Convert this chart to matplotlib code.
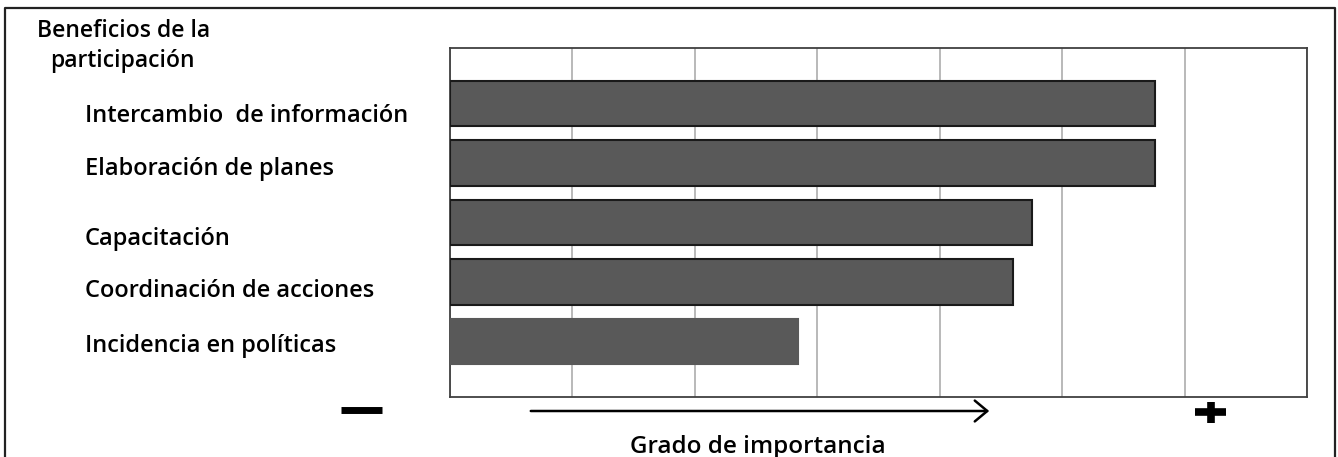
import matplotlib.pyplot as plt
from matplotlib.patches import FancyArrowPatch
from matplotlib.lines import Line2D

categorias = ['Intercambio  de información', 'Elaboración de planes', 'Capacitación',
              'Coordinación de acciones', 'Incidencia en políticas']
valores = [5.76, 5.76, 4.75, 4.60, 2.84]

W, H = 1338, 457
# línea base (px desde arriba) de cada etiqueta
linea_base = [122, 175, 245, 297, 352]

plt.rcParams['font.family'] = ['Open Sans', 'DejaVu Sans']

fig = plt.figure(figsize=(W/100, H/100), dpi=100)
ax = fig.add_axes([450/W, 1-397/H, 857/W, 349/H])

y = list(range(len(categorias)))
bordes = ['#1a1a1a', '#1a1a1a', '#1a1a1a', '#1a1a1a', '#595959']
ax.barh(y, valores, height=0.76, color='#595959', edgecolor=bordes, linewidth=1.5, zorder=3)

ax.set_xlim(0, 7)
ax.set_ylim(4.93, -0.93)
ax.set_xticks(range(8))
ax.set_yticks([])
ax.tick_params(axis='x', length=0, labelbottom=False)
ax.grid(axis='x', color='#a6a6a6', linewidth=1.1, zorder=0)
for s in ax.spines.values():
    s.set_color('#404040')
    s.set_linewidth(1.3)

for nombre, yb in zip(categorias, linea_base):
    fig.text(85/W, 1-yb/H, nombre, ha='left', va='baseline',
             fontsize=17, fontweight='semibold', color='black')

fig.text(37/W, 1-37/H, 'Beneficios de la', ha='left', va='baseline', fontsize=16.5, fontweight='semibold')
fig.text(50/W, 1-67/H, 'participación', ha='left', va='baseline', fontsize=16.5, fontweight='semibold')

# flecha y signos
flecha = FancyArrowPatch((528/W, 1-411/H), (992/W, 1-411/H), transform=fig.transFigure,
                         arrowstyle='->,head_length=9,head_width=7.5', color='black', linewidth=1.8,
                         mutation_scale=1)
fig.add_artist(flecha)
fig.add_artist(Line2D([341/W, 382/W], [1-409.5/H, 1-409.5/H], transform=fig.transFigure,
                      color='black', linewidth=5, solid_capstyle='butt'))
fig.add_artist(Line2D([1195/W, 1226/W], [1-412/H, 1-412/H], transform=fig.transFigure,
                      color='black', linewidth=5.5, solid_capstyle='butt'))
fig.add_artist(Line2D([1210.5/W, 1210.5/W], [1-402/H, 1-423/H], transform=fig.transFigure,
                      color='black', linewidth=5.5, solid_capstyle='butt'))
fig.text(758/W, 1-453/H, 'Grado de importancia', ha='center', va='baseline',
         fontsize=17.5, fontweight='semibold')

# marco exterior
fig.add_artist(Line2D([5/W, 5/W, 1335/W, 1335/W], [0, 1-8/H, 1-8/H, 0],
                      transform=fig.transFigure, color='#222222', linewidth=1.6))

fig.savefig('out.png', dpi=100)
